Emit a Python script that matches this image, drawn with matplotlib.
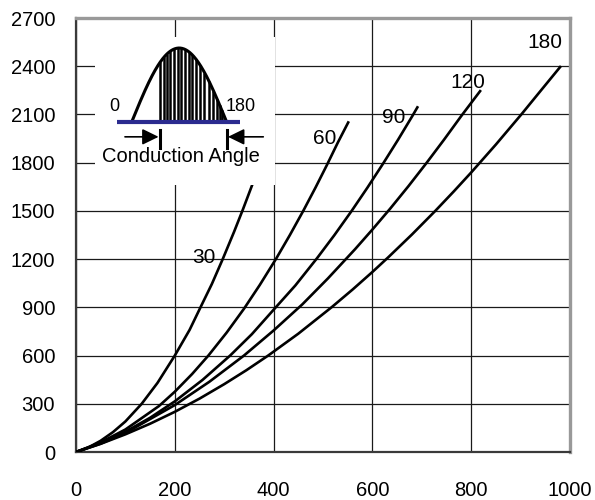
import matplotlib
matplotlib.use('Agg')
import matplotlib.pyplot as plt
import numpy as np

plt.rcParams['font.family'] = ['Liberation Sans', 'DejaVu Sans']
plt.rcParams['font.size'] = 14

# curves, one per conduction angle
x30 = [0, 25, 50, 75, 100, 133, 165, 200, 230, 252, 275, 297, 320, 338, 356]
y30 = [0, 28, 70, 124, 190, 300, 430, 600, 760, 900, 1045, 1200, 1370, 1510, 1656]

x60 = [0, 50, 100, 168, 200, 235, 268, 305, 340, 372, 405, 433, 460, 485, 508, 530, 551]
y60 = [0, 60, 140, 286, 375, 485, 600, 743, 891, 1039, 1202, 1350, 1500, 1646, 1786, 1925, 2050]

x90 = [0, 50, 100, 150, 200, 256, 312, 356, 400, 444, 488, 523, 558, 590, 622, 652, 681, 691]
y90 = [0, 55, 126, 213, 315, 448, 600, 733, 885, 1036, 1206, 1349, 1500, 1645, 1796, 1943, 2091, 2144]

x120 = [0, 50, 100, 150, 200, 270, 340, 400, 458, 510, 565, 600, 636, 673, 710, 745, 781, 818]
y120 = [0, 52, 118, 205, 292, 437, 600, 756, 918, 1080, 1262, 1384, 1514, 1654, 1800, 1943, 2095, 2245]

x180 = [0, 50, 100, 150, 200, 250, 300, 345, 389, 450, 518, 560, 600, 632, 680, 727, 765, 800, 850, 902, 940, 980]
y180 = [0, 51, 110, 176, 250, 332, 422, 509, 600, 736, 902, 1011, 1120, 1211, 1353, 1499, 1622, 1739, 1913, 2102, 2245, 2395]

curve_names = ['30', '60', '90', '120', '180']

xticks = [0, 200, 400, 600, 800, 1000]
yticks = [0, 300, 600, 900, 1200, 1500, 1800, 2100, 2400, 2700]

# hatch lines inside the conduction window (degrees)
hatch_angles = [54, 61, 67, 73, 80, 87, 94, 101, 108, 115, 122, 130, 138, 146, 155, 162, 167, 171]

fig = plt.figure(figsize=(5.95, 5.0), dpi=100)
ax = fig.add_axes([76/595, 1 - 452/500, 494/595, 434/500])

for xs, ys in [(x30, y30), (x60, y60), (x90, y90), (x120, y120), (x180, y180)]:
    ax.plot(xs, ys, color='k', lw=1.9, zorder=3, solid_joinstyle='round')

# curve labels
ax.text(259, 1210, curve_names[0], ha='center', va='center', fontsize=15)
ax.text(503, 1953, curve_names[1], ha='center', va='center', fontsize=15)
ax.text(643, 2081, curve_names[2], ha='center', va='center', fontsize=15)
ax.text(794, 2296, curve_names[3], ha='center', va='center', fontsize=15)
ax.text(949, 2548, curve_names[4], ha='center', va='center', fontsize=15)

ax.set_xlim(0, 1000)
ax.set_ylim(0, 2700)
ax.set_xticks(xticks)
ax.set_yticks(yticks)
ax.grid(True, color='#1a1a1a', lw=0.9)
ax.tick_params(axis='both', length=0, labelsize=14.5)
ax.tick_params(axis='x', pad=21)
ax.tick_params(axis='y', pad=15)

for side in ['top', 'right']:
    ax.spines[side].set_color('#999999')
    ax.spines[side].set_linewidth(2.4)
for side in ['left', 'bottom']:
    ax.spines[side].set_color('#3a3a3a')
    ax.spines[side].set_linewidth(1.6)

# inset sketch of the conduction angle
ins = fig.add_axes([95/595, 1 - 185/500, 180/595, 148/500])
ins.set_facecolor('white')
ins.set_xlim(-69.5, 271.6)
ins.set_ylim(-0.851, 1.149)
ins.set_xticks([])
ins.set_yticks([])
for s in ins.spines.values():
    s.set_visible(False)

ang = np.linspace(0, 180, 200)
ins.plot(ang, np.sin(np.radians(ang)), color='k', lw=2.2)
ha = np.array(hatch_angles)
ins.vlines(ha, 0, np.sin(np.radians(ha)), colors='k', lw=1.8)
ins.plot([-27.8, 205.3], [0, 0], color='#2b2b8f', lw=3, solid_capstyle='butt')

arrow = dict(arrowstyle='-|>,head_length=0.45,head_width=0.22', color='k', lw=1.2,
             mutation_scale=22, shrinkA=0, shrinkB=0)
ins.annotate('', xy=(51, -0.2), xytext=(-12.7, -0.2), arrowprops=arrow)
ins.annotate('', xy=(182.5, -0.2), xytext=(249.4, -0.2), arrowprops=arrow)
ins.plot([53.6, 53.6], [-0.108, -0.351], color='k', lw=2.2)
ins.plot([180, 180], [-0.108, -0.351], color='k', lw=2.2)

ins.text(94, -0.536, 'Conduction Angle', ha='center', va='baseline', fontsize=14.5)
ins.text(-32.6, 0.216, '0', ha='center', va='center', fontsize=13)
ins.text(206, 0.212, '180', ha='center', va='center', fontsize=13)

fig.savefig('out.png', dpi=100)
